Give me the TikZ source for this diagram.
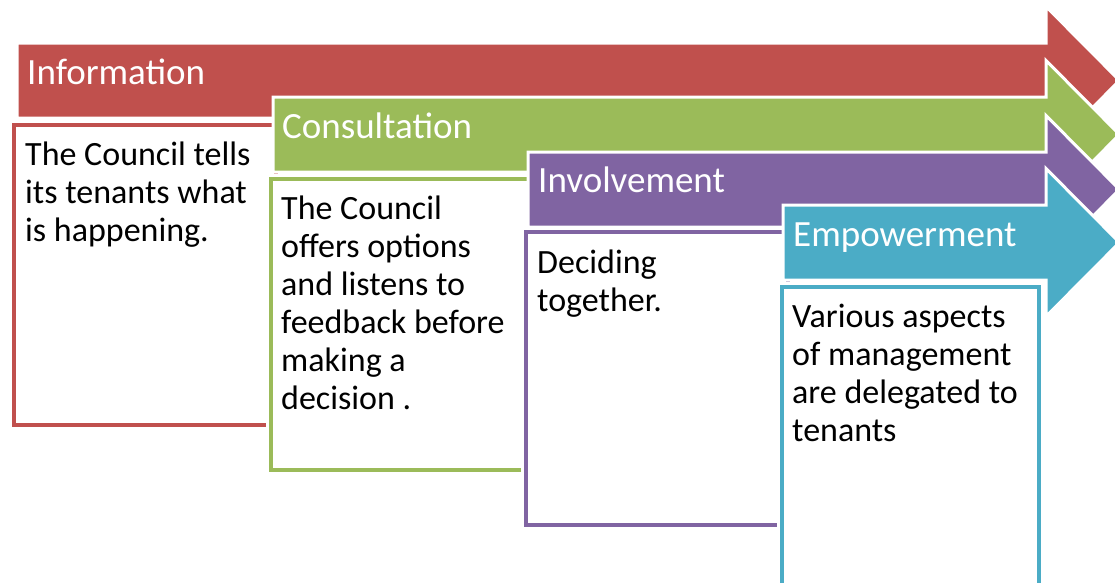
\documentclass[tikz,border=0pt]{standalone}
\usepackage{fontspec}
\setmainfont{Carlito}
\definecolor{stagered}{HTML}{C0504D}
\definecolor{stagegreen}{HTML}{9BBB59}
\definecolor{stagepurple}{HTML}{8064A2}
\definecolor{stageteal}{HTML}{4BACC6}
% arrow band: #1 colour, #2 left x, #3 top y of the shaft
\newcommand\stagearrow[3]{%
  \filldraw[fill=#1, draw=white, line width=3pt, line join=miter]
    (#2,#3) -- (1046,#3) -- (1046,#3-36.5) -- (1119.5,#3+37.5)
    -- (1046,#3+111.5) -- (1046,#3+75) -- (#2,#3+75) -- cycle;}
\begin{document}
\begin{tikzpicture}[x=1pt,y=-1pt,
  stagebox/.style={rectangle, fill=white, draw=#1, line width=4.5pt,
    outer sep=0pt, inner sep=0pt, anchor=north west,
    preaction={draw=white, line width=11pt}},
  headtext/.style={text=white, font=\fontsize{37}{40}\selectfont,
    anchor=base west, inner sep=0pt},
  bodytext/.style={text=black, font=\fontsize{34}{38}\selectfont,
    align=left, anchor=base west, inner sep=0pt}]
\useasboundingbox (0,0) rectangle (1115,582);
\fill[white] (0,0) rectangle (1115,582);

% Information (text nodes are placed by the baseline of their last line)
\stagearrow{stagered}{17}{43}
\node[stagebox=stagered, minimum width=262pt, minimum height=300pt] (infobox) at (14,125) {};
\node[headtext] (infohead) at (27,84) {Information};
\node[bodytext] (infotext) at (25,241) {The Council tells\\its tenants what\\is happening.};

% Consultation
\stagearrow{stagegreen}{273}{97}
\node[stagebox=stagegreen, minimum width=261pt, minimum height=291pt] (consbox) at (271,179) {};
\node[headtext] (conshead) at (282,138) {Consultation};
\node[bodytext] (constext) at (281,409) {The Council\\offers options\\and listens to\\feedback before\\making a\\decision .};

% Involvement
\stagearrow{stagepurple}{528}{152}
\node[stagebox=stagepurple, minimum width=262pt, minimum height=293pt] (invbox) at (526,232) {};
\node[headtext] (invhead) at (538,192) {Involvement};
\node[bodytext] (invtext) at (537,311) {Deciding\\together.};

% Empowerment
\stagearrow{stageteal}{783}{205}
\node[stagebox=stageteal, minimum width=257pt, minimum height=353pt] (empbox) at (782,287) {};
\node[headtext] (emphead) at (793,246) {Empowerment};
\node[bodytext] (emptext) at (792,441) {Various aspects\\of management\\are delegated to\\tenants};
\end{tikzpicture}
\end{document}
